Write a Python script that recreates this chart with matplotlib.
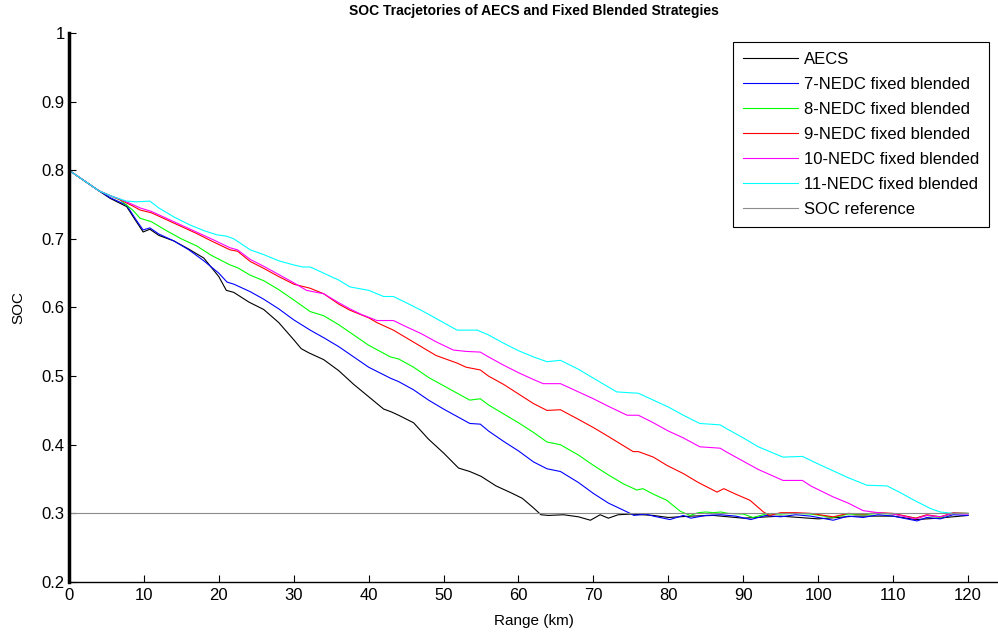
import matplotlib
matplotlib.use("Agg")
import matplotlib.pyplot as plt

plt.rcParams['font.family'] = ['Liberation Sans', 'DejaVu Sans']

# AECS
aecs_x = [0, 2, 4, 5.5, 7.7, 9, 9.9, 10.8, 12, 14, 16, 18, 20, 21, 22, 24, 26, 28, 30, 31, 32, 34, 36, 38,
          40, 42, 43, 44, 46, 48, 50, 52, 53.5, 55, 57, 59, 60.5, 62, 63, 64, 66, 68, 69.6, 70.9, 72, 73.3,
          75, 78, 80, 83, 86, 90, 95, 100, 105, 110, 113, 116, 120]
aecs_y = [0.800, 0.785, 0.770, 0.759, 0.747, 0.725, 0.710, 0.714, 0.705, 0.697, 0.685, 0.672, 0.645,
          0.625, 0.622, 0.608, 0.597, 0.578, 0.553, 0.540, 0.534, 0.524, 0.508, 0.488, 0.470, 0.452, 0.448,
          0.443, 0.432, 0.408, 0.388, 0.366, 0.361, 0.354, 0.340, 0.330, 0.322, 0.308, 0.298, 0.297, 0.298,
          0.295, 0.290, 0.298, 0.293, 0.298, 0.299, 0.297, 0.294, 0.296, 0.297, 0.293, 0.296, 0.292, 0.296,
          0.296, 0.291, 0.293, 0.297]

# 7-NEDC
n7_x = [0, 2, 4, 5.5, 7.7, 9, 9.9, 10.8, 12, 14, 16, 18, 20, 21.1, 22, 24.2, 26, 28, 30, 32.2, 34, 36, 38, 40,
        42.9, 44, 46, 48, 50, 52, 53.5, 54.9, 56, 58, 60, 62, 63.8, 65.6, 68, 70, 72, 74.9, 75.4, 77, 78,
        80.2, 82, 83, 85, 87, 89, 91, 93, 95, 97, 99, 102, 104, 106, 108, 110, 113.2, 114.5, 116.3, 118, 120]
n7_y = [0.800, 0.785, 0.770, 0.760, 0.749, 0.727, 0.713, 0.716, 0.707, 0.697, 0.684, 0.668, 0.650, 0.637,
        0.634, 0.623, 0.612, 0.598, 0.582, 0.567, 0.556, 0.543, 0.528, 0.513, 0.497, 0.492, 0.480, 0.465,
        0.452, 0.440, 0.431, 0.430, 0.420, 0.405, 0.391, 0.375, 0.365, 0.361, 0.345, 0.329, 0.315, 0.300,
        0.297, 0.299, 0.296, 0.291, 0.297, 0.293, 0.297, 0.298, 0.296, 0.291, 0.297, 0.295, 0.298, 0.296,
        0.290, 0.296, 0.294, 0.298, 0.296, 0.289, 0.294, 0.292, 0.298, 0.297]

# 8-NEDC
n8_x = [0, 2, 4, 5.5, 6.8, 8.5, 9.5, 11, 13, 15, 17, 19, 21.5, 22.5, 24.2, 26, 28, 30, 32.2, 34, 36, 38, 40,
        42.9, 44, 46, 48, 50, 52, 53.5, 54.9, 56, 58, 60, 62, 63.8, 65.6, 68, 70, 72, 74, 75.8, 76.6, 78,
        79.8, 81.6, 82.9, 84, 85, 86, 87, 88, 90, 91.3, 93, 95, 97, 99, 102, 104, 106, 108, 110, 113, 114.5,
        116.3, 118, 120]
n8_y = [0.800, 0.785, 0.770, 0.763, 0.757, 0.742, 0.730, 0.725, 0.712, 0.700, 0.690, 0.676, 0.662, 0.658,
        0.647, 0.639, 0.626, 0.611, 0.594, 0.588, 0.575, 0.560, 0.545, 0.528, 0.525, 0.513, 0.498, 0.486,
        0.474, 0.465, 0.467, 0.458, 0.445, 0.432, 0.418, 0.404, 0.400, 0.385, 0.370, 0.356, 0.343, 0.334,
        0.336, 0.328, 0.319, 0.303, 0.297, 0.301, 0.302, 0.301, 0.302, 0.300, 0.299, 0.294, 0.299, 0.299,
        0.300, 0.299, 0.294, 0.299, 0.298, 0.300, 0.299, 0.293, 0.297, 0.294, 0.300, 0.300]

# 9-NEDC
n9_x = [0, 2, 4, 5.5, 6.8, 8.5, 9.5, 11, 13, 15, 17, 19, 21.5, 22.5, 24.2, 26, 28, 30, 32.2, 34, 36, 37.5,
        40, 41.1, 43.3, 45, 47, 49, 51.8, 53, 54.9, 56, 58, 60, 62, 63.8, 65.6, 68, 70, 72, 75.3, 76, 78,
        79.8, 82, 84, 86.5, 87.4, 89, 90.9, 92.7, 93.5, 95, 97, 99, 102, 104, 106, 108, 110, 113, 114.5,
        116.3, 118, 120]
n9_y = [0.800, 0.785, 0.770, 0.763, 0.757, 0.748, 0.742, 0.738, 0.728, 0.718, 0.708, 0.697, 0.684, 0.682,
        0.667, 0.657, 0.645, 0.634, 0.628, 0.620, 0.605, 0.596, 0.585, 0.578, 0.567, 0.556, 0.543, 0.530,
        0.519, 0.513, 0.509, 0.500, 0.488, 0.474, 0.460, 0.450, 0.451, 0.437, 0.425, 0.412, 0.390, 0.390,
        0.382, 0.370, 0.358, 0.345, 0.331, 0.336, 0.328, 0.319, 0.302, 0.297, 0.301, 0.301, 0.300, 0.295,
        0.300, 0.299, 0.301, 0.300, 0.293, 0.298, 0.295, 0.301, 0.300]

# 10-NEDC
n10_x = [0, 2, 4, 5.5, 6.8, 8.5, 9.5, 11, 13, 15, 17, 19, 21.5, 22.5, 24.2, 26, 28, 30, 31.7, 34, 36, 37.5,
         39, 41.1, 43.3, 45, 47, 49, 51.3, 53, 54.9, 56, 58, 60, 62, 63.3, 65.6, 68, 70, 72, 74.5, 76, 78,
         80, 82, 84.2, 86.9, 88, 90, 92, 95.3, 97.9, 99, 102, 104, 106, 108, 110, 113, 114.5, 116.3, 118, 120]
n10_y = [0.800, 0.785, 0.770, 0.763, 0.758, 0.750, 0.745, 0.740, 0.730, 0.720, 0.710, 0.700, 0.687, 0.684,
         0.670, 0.660, 0.648, 0.636, 0.625, 0.620, 0.607, 0.598, 0.590, 0.581, 0.581, 0.572, 0.562, 0.550,
         0.538, 0.536, 0.535, 0.528, 0.516, 0.505, 0.495, 0.489, 0.489, 0.477, 0.467, 0.456, 0.443, 0.443,
         0.432, 0.420, 0.410, 0.397, 0.395, 0.388, 0.376, 0.364, 0.348, 0.348, 0.340, 0.324, 0.315, 0.304,
         0.301, 0.299, 0.292, 0.297, 0.295, 0.300, 0.299]

# 11-NEDC
n11_x = [0, 2, 4, 5.5, 6.8, 7.7, 9, 10.8, 12, 14, 16, 18, 19.7, 21, 22, 24.2, 26, 28, 30, 31.2, 32.2, 34, 36,
         37.5, 40, 42, 43.3, 45, 47, 49, 51.8, 54.5, 56, 58, 60, 62, 63.8, 65.6, 68, 70, 73.1, 76, 78, 80, 82,
         84.2, 86.9, 88, 90, 92, 95.3, 97.9, 100, 102, 104, 106.5, 109.2, 111, 113, 115, 116.3, 118, 120]
n11_y = [0.800, 0.785, 0.770, 0.763, 0.758, 0.755, 0.754, 0.755, 0.745, 0.732, 0.721, 0.712, 0.706, 0.704,
         0.700, 0.684, 0.677, 0.668, 0.662, 0.659, 0.659, 0.650, 0.640, 0.630, 0.625, 0.616, 0.616, 0.607,
         0.596, 0.584, 0.567, 0.567, 0.560, 0.548, 0.537, 0.528, 0.521, 0.523, 0.510, 0.497, 0.477, 0.475,
         0.465, 0.455, 0.443, 0.431, 0.429, 0.422, 0.410, 0.397, 0.382, 0.383, 0.372, 0.362, 0.352, 0.341,
         0.340, 0.330, 0.318, 0.307, 0.302, 0.300, 0.300]

ref_x = [0, 120]
ref_y = [0.3, 0.3]

labels = ['AECS', '7-NEDC fixed blended', '8-NEDC fixed blended', '9-NEDC fixed blended',
          '10-NEDC fixed blended', '11-NEDC fixed blended', 'SOC reference']

fig = plt.figure(figsize=(9.98, 6.39), dpi=100)
ax = fig.add_axes([0.0691, 0.0892, 0.9309, 0.8592])

ax.plot(aecs_x, aecs_y, color='k', lw=0.8, label=labels[0])
ax.plot(n7_x, n7_y, color=(0, 0, 1), lw=0.8, label=labels[1])
ax.plot(n8_x, n8_y, color=(0, 1, 0), lw=0.8, label=labels[2])
ax.plot(n9_x, n9_y, color=(1, 0, 0), lw=0.8, label=labels[3])
ax.plot(n10_x, n10_y, color=(1, 0, 1), lw=0.8, label=labels[4])
ax.plot(n11_x, n11_y, color=(0, 1, 1), lw=0.8, label=labels[5])
ax.plot(ref_x, ref_y, color=(0.55, 0.55, 0.55), lw=0.8, label=labels[6])

ax.set_xlim(0, 124)
ax.set_ylim(0.2, 1.0)
ax.set_xticks(range(0, 121, 10))
ax.set_yticks([0.2, 0.3, 0.4, 0.5, 0.6, 0.7, 0.8, 0.9, 1.0])
ax.set_yticklabels(['0.2', '0.3', '0.4', '0.5', '0.6', '0.7', '0.8', '0.9', '1'])
ax.tick_params(direction='in', length=5, width=0.8, labelsize=12)
ax.tick_params(axis='x', pad=4)
ax.tick_params(axis='y', pad=3)

ax.spines['top'].set_visible(False)
ax.spines['right'].set_visible(False)
ax.spines['left'].set_linewidth(2.5)
ax.spines['bottom'].set_linewidth(1.0)

ax.set_xlabel('Range (km)', fontsize=11, labelpad=8)
ax.set_ylabel('SOC', fontsize=11, labelpad=12)
ax.set_title('SOC Tracjetories of AECS and Fixed Blended Strategies', fontsize=10, fontweight='bold', pad=13)

leg = ax.legend(loc='upper right', bbox_to_anchor=(0.9903, 0.9836), borderaxespad=0, fontsize=12,
                fancybox=False, framealpha=1, edgecolor='k', handlelength=3.3, labelspacing=0.6,
                borderpad=0.6, handletextpad=0.36)
leg.get_frame().set_linewidth(0.8)

fig.savefig('out.png', dpi=100)
